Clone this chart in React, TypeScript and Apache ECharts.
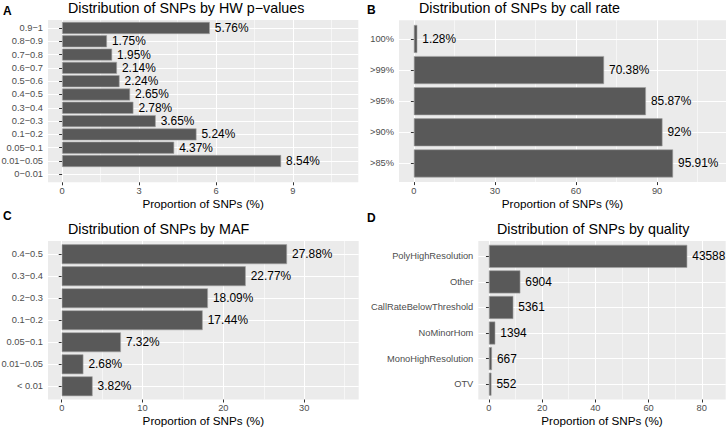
import React, { useEffect, useRef } from "react";
import * as echarts from "echarts";

// ---- Data ----
const hwCategories = ["0.9−1", "0.8−0.9", "0.7−0.8", "0.6−0.7", "0.5−0.6", "0.4−0.5", "0.3−0.4", "0.2−0.3", "0.1−0.2", "0.05−0.1", "0.01−0.05", "0−0.01"];
const hwValues: (number | null)[] = [5.76, 1.75, 1.95, 2.14, 2.24, 2.65, 2.78, 3.65, 5.24, 4.37, 8.54, null];
const hwTicks = [0, 3, 6, 9];
const hwMinor = [1.5, 4.5, 7.5, 10.5];

const callCategories = ["100%", ">99%", ">95%", ">90%", ">85%"];
const callValues = [1.28, 70.38, 85.87, 92, 95.91];
const callTicks = [0, 30, 60, 90];
const callMinor = [15, 45, 75, 105];

const mafCategories = ["0.4−0.5", "0.3−0.4", "0.2−0.3", "0.1−0.2", "0.05−0.1", "0.01−0.05", "< 0.01"];
const mafValues = [27.88, 22.77, 18.09, 17.44, 7.32, 2.68, 3.82];
const mafTicks = [0, 10, 20, 30];
const mafMinor = [5, 15, 25, 35];

const qualityCategories = ["PolyHighResolution", "Other", "CallRateBelowThreshold", "NoMinorHom", "MonoHighResolution", "OTV"];
const qualityCounts = [43588, 6904, 5361, 1394, 667, 552];
const qualityTicks = [0, 20, 40, 60, 80];
const qualityMinor = [10, 30, 50, 70];

const titles = [
  "Distribution of SNPs by HW p−values",
  "Distribution of SNPs by call rate",
  "Distribution of SNPs by MAF",
  "Distribution of SNPs by quality",
];
const panelLetters = ["A", "B", "C", "D"];
const axisTitle = "Proportion of SNPs (%)";

const FONT = "'Liberation Sans', Arial, Helvetica, sans-serif";

const qualityTotal = qualityCounts.reduce((a, b) => a + b, 0);
const qualityPct = qualityCounts.map((c) => (c / qualityTotal) * 100);

type Panel = {
  left: number; top: number; width: number; height: number;
  min: number; max: number;
  cats: string[]; values: (number | null)[]; labels: string[];
  ticks: number[]; minor: number[];
};

const panels: Panel[] = [
  { left: 48, top: 20, width: 310.3, height: 162.3, min: -0.55, max: 11.55, cats: hwCategories, values: hwValues,
    labels: hwValues.map((v) => (v == null ? "" : `${v}%`)), ticks: hwTicks, minor: hwMinor },
  { left: 399, top: 20.3, width: 327, height: 161.8, min: -5.5, max: 115.5, cats: callCategories, values: callValues,
    labels: callValues.map((v) => `${v}%`), ticks: callTicks, minor: callMinor },
  { left: 48, top: 241, width: 310.7, height: 158.5, min: -1.7, max: 36.75, cats: mafCategories, values: mafValues,
    labels: mafValues.map((v) => `${v}%`), ticks: mafTicks, minor: mafMinor },
  { left: 478.3, top: 241, width: 247.4, height: 158.5, min: -4, max: 89, cats: qualityCategories, values: qualityPct,
    labels: qualityCounts.map((c) => `${c}`), ticks: qualityTicks, minor: qualityMinor },
];

function buildOption() {
  const grid: any[] = [];
  const xAxis: any[] = [];
  const yAxis: any[] = [];
  const series: any[] = [];

  panels.forEach((p, k) => {
    const n = p.cats.length;
    const unit = p.height / (n + 0.2);
    grid.push({ left: p.left, top: p.top, width: p.width, height: p.height, show: true,
      backgroundColor: "#EBEBEB", borderWidth: 0, containLabel: false, outerBoundsMode: "none" });
    grid.push({ left: p.left, top: p.top + 0.1 * unit, width: p.width, height: n * unit, show: false,
      containLabel: false, outerBoundsMode: "none" });
    const gOuter = 2 * k;
    const gInner = 2 * k + 1;

    // major x axis
    xAxis.push({
      type: "value", gridIndex: gOuter, min: p.min, max: p.max, position: "bottom",
      axisLine: { show: false },
      axisTick: { show: true, length: 3, customValues: p.ticks, lineStyle: { color: "#333333", width: 1 } },
      axisLabel: { show: true, customValues: p.ticks, margin: 4, fontSize: 9.3, color: "#4D4D4D", fontFamily: FONT },
      splitLine: { show: true, lineStyle: { color: "#FFFFFF", width: 1.1 } },
      name: axisTitle, nameLocation: "middle", nameGap: 15,
      nameTextStyle: { fontSize: 11.7, color: "#000000", fontFamily: FONT },
    });
    // minor x axis (gridlines only)
    xAxis.push({
      type: "value", gridIndex: gOuter, min: p.min, max: p.max, position: "bottom",
      axisLine: { show: false },
      axisTick: { show: false, customValues: p.minor },
      axisLabel: { show: false, customValues: p.minor },
      splitLine: { show: true, lineStyle: { color: "#FFFFFF", width: 0.55 } },
    });
    // inner x axis for the bars
    xAxis.push({ type: "value", gridIndex: gInner, min: p.min, max: p.max, show: false });

    const centers = p.cats.map((_, i) => i + 1);
    yAxis.push({
      type: "value", gridIndex: gOuter, min: 0.4, max: n + 0.6, inverse: true,
      axisLine: { show: false },
      axisTick: { show: false, customValues: centers },
      axisLabel: { show: false, customValues: centers },
      splitLine: { show: true, lineStyle: { color: "#FFFFFF", width: 1.1 } },
    });
    yAxis.push({
      type: "category", gridIndex: gInner, data: p.cats, inverse: true,
      axisLine: { show: false },
      axisTick: { show: true, alignWithLabel: true, length: 3, lineStyle: { color: "#333333", width: 1 } },
      axisLabel: { show: true, margin: 5, fontSize: 9.3, color: "#4D4D4D", fontFamily: FONT },
      splitLine: { show: false },
    });

    series.push({
      type: "bar",
      xAxisIndex: 3 * k + 2,
      yAxisIndex: 2 * k + 1,
      data: p.values.map((v) => (v == null ? "-" : v)),
      barCategoryGap: "10%",
      itemStyle: { color: "#595959", borderColor: "#A3A3A3", borderWidth: 0.6 },
      label: {
        show: true, position: "right", distance: 5, fontSize: 11.9, color: "#000000", fontFamily: FONT,
        formatter: (prm: any) => p.labels[prm.dataIndex],
      },
    });
  });

  const titlePos = [
    { x: 68, y: 7.5 },
    { x: 419, y: 7.5 },
    { x: 68, y: 229 },
    { x: 497, y: 229 },
  ];
  const letterPos = [
    { x: 3, y: 11 },
    { x: 367, y: 10 },
    { x: 3, y: 215.5 },
    { x: 367, y: 217.5 },
  ];

  const graphic: any[] = [];
  titles.forEach((t, i) => {
    graphic.push({
      type: "text", x: titlePos[i].x, y: titlePos[i].y, silent: true,
      style: { text: t, fontSize: 14.3, fill: "#000000", fontFamily: FONT, textAlign: "left", textVerticalAlign: "middle" },
    });
  });
  panelLetters.forEach((t, i) => {
    graphic.push({
      type: "text", x: letterPos[i].x, y: letterPos[i].y, silent: true,
      style: { text: t, fontSize: 12, fontWeight: "bold", fill: "#000000", fontFamily: FONT, textAlign: "left", textVerticalAlign: "middle" },
    });
  });

  return {
    animation: false,
    backgroundColor: "#FFFFFF",
    textStyle: { fontFamily: FONT },
    grid, xAxis, yAxis, series, graphic,
  };
}

export default function App() {
  const ref = useRef<HTMLDivElement>(null);
  useEffect(() => {
    document.body.style.margin = "0";
    if (!ref.current) return;
    const chart = echarts.init(ref.current, undefined, { renderer: "svg" });
    chart.setOption(buildOption() as any);
    return () => chart.dispose();
  }, []);
  return <div ref={ref} style={{ width: 728, height: 433 }} />;
}
